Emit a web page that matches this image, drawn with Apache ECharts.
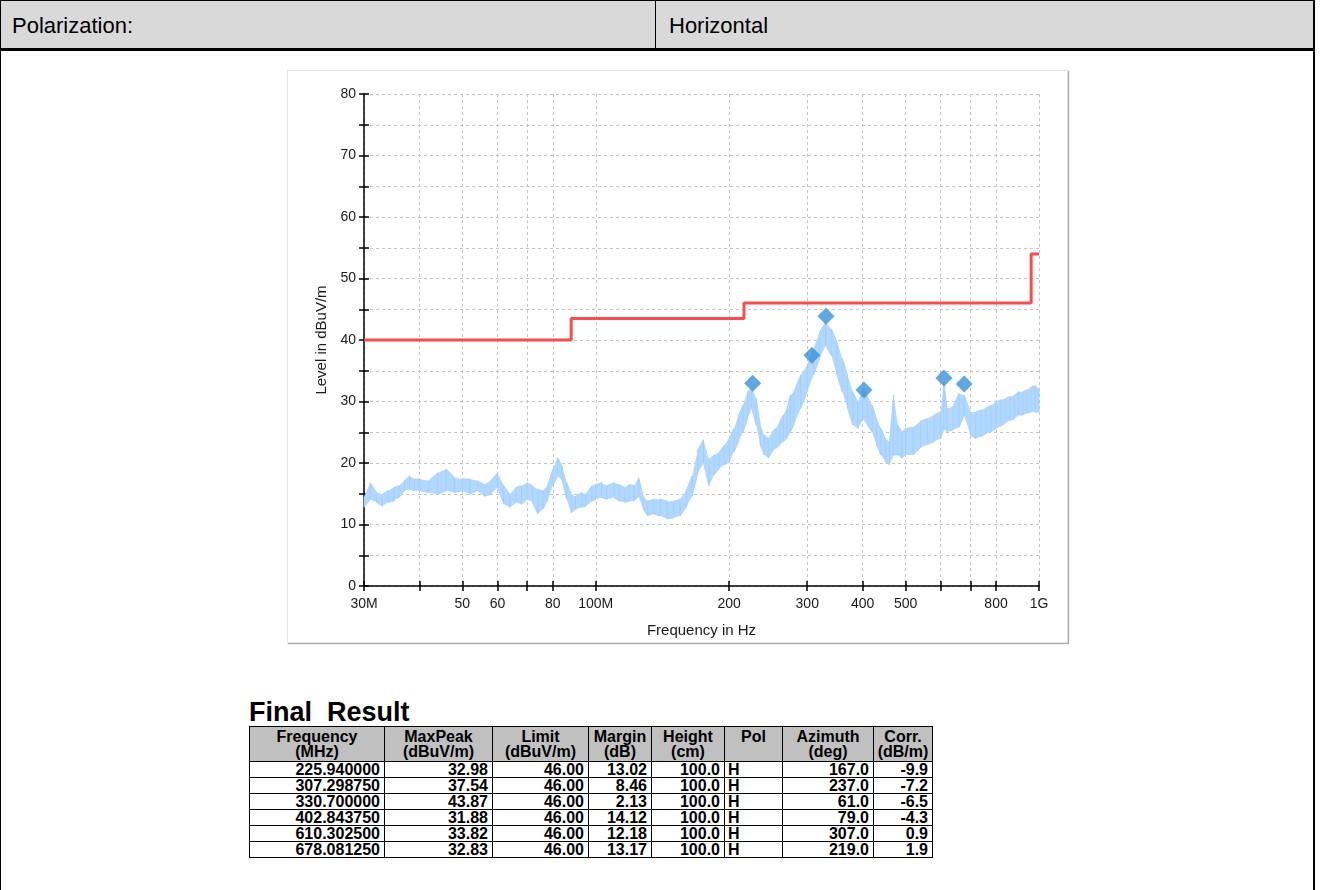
<!DOCTYPE html>
<html>
<head>
<meta charset="utf-8">
<script src="https://cdn.jsdelivr.net/npm/echarts@6/dist/echarts.min.js"></script>
<style>
  body { margin: 0; background: #fff; font-family: "Liberation Sans", Arial, sans-serif; }
  #page { position: relative; width: 1321px; height: 890px; overflow: hidden; }
  .ln { position: absolute; background: #000; }
  .hd-txt { position: absolute; top: 13px; font-size: 22px; color: #000; }
  #box {
    position: absolute; left: 287px; top: 70px; width: 779px; height: 571px;
    border: 1px solid #e4e4e4; box-shadow: 1px 1px 1px #a8a8a8;
  }
  #chart { position: absolute; left: 287px; top: 70px; width: 781px; height: 573px; }
  #res-title { position: absolute; left: 249px; top: 697px; font-size: 27px; font-weight: bold; white-space: pre; }
  #res {
    position: absolute; left: 249px; top: 726px; border-collapse: collapse;
    font-size: 16px; font-weight: bold; line-height: 15px;
  }
  #res th, #res td { border: 1px solid #000; padding: 0 4px 0 2px; }
  #res th { background: #c0c0c0; text-align: center; height: 34px; padding: 0 1px; }
  #res td { text-align: right; height: 15px; }
  #res td.pol { text-align: left; padding-left: 3px; }
</style>
</head>
<body>
<div id="page">
  <div class="ln" style="left:0;top:0;width:1314px;height:49px;background:#d9d9d9"></div>
  <div class="ln" style="left:0;top:0;width:1315px;height:1px"></div>
  <div class="ln" style="left:0;top:0;width:1px;height:890px"></div>
  <div class="ln" style="left:655px;top:0;width:1px;height:49px"></div>
  <div class="ln" style="left:0;top:48px;width:1315px;height:3px"></div>
  <div class="ln" style="left:1313px;top:0;width:2px;height:890px"></div>
  <div class="hd-txt" style="left:12px">Polarization:</div>
  <div class="hd-txt" style="left:669px">Horizontal</div>

  <div id="box"></div>
  <div id="chart"></div>

  <div id="res-title">Final  Result</div>
  <table id="res"></table>
</div>
<script>
// result table (strings keep the report's formatting)
const resFreq = ['225.940000', '307.298750', '330.700000', '402.843750', '610.302500', '678.081250'];
const resMaxPeak = ['32.98', '37.54', '43.87', '31.88', '33.82', '32.83'];
const resLimit = ['46.00', '46.00', '46.00', '46.00', '46.00', '46.00'];
const resMargin = ['13.02', '8.46', '2.13', '14.12', '12.18', '13.17'];
const resHeight = ['100.0', '100.0', '100.0', '100.0', '100.0', '100.0'];
const resPol = ['H', 'H', 'H', 'H', 'H', 'H'];
const resAzimuth = ['167.0', '237.0', '61.0', '79.0', '307.0', '219.0'];
const resCorr = ['-9.9', '-7.2', '-6.5', '-4.3', '0.9', '1.9'];

// limit line (MHz, dBuV/m)
const limitFreq = [30, 88, 88, 216, 216, 960, 960, 1000];
const limitLevel = [40, 40, 43.5, 43.5, 46, 46, 54, 54];

// scan trace: upper / lower edge of the noise band
const traceFreq = [30, 31, 32, 33, 34, 35, 36, 37, 38, 39, 40, 42, 44, 46, 48, 50, 52, 54, 56, 58,
  60, 62, 64, 66, 68, 70, 72, 74, 76, 78, 80, 82, 84, 86, 88, 90, 93, 95, 98, 100,
  103, 106, 110, 113, 116, 119, 122, 125, 128, 131, 135, 140, 145, 150, 155, 160, 165, 170, 175, 180,
  185, 190, 195, 200, 205, 210, 215, 220, 225, 230, 235, 240, 245, 250, 255, 260, 265, 270, 275, 280,
  290, 300, 310, 320, 330, 340, 350, 360, 370, 380, 390, 400, 410, 420, 430, 440, 450, 460, 470, 480,
  490, 500, 520, 540, 560, 580, 600, 610, 620, 640, 660, 678, 700, 720, 740, 760, 780, 800, 820, 840,
  860, 880, 900, 920, 940, 960, 980, 1000];
const traceHi = [14.5, 16.8, 15.2, 14.9, 15.5, 16.0, 16.3, 17.1, 17.9, 17.4, 17.4, 17.1, 18.4, 19.0, 17.6, 17.4, 17.4, 17.1, 16.5, 17.1,
  18.4, 16.3, 14.9, 16.0, 16.3, 16.8, 16.3, 15.7, 15.5, 16.5, 19.0, 20.9, 19.5, 16.8, 14.9, 14.6, 15.2, 14.9, 16.3, 16.5,
  16.8, 16.3, 16.8, 16.5, 16.0, 16.5, 16.3, 17.6, 14.6, 13.8, 14.1, 14.1, 13.8, 13.8, 14.1, 15.5, 17.9, 22.2, 23.8, 20.6,
  21.3, 21.8, 22.9, 24.0, 25.6, 27.8, 29.4, 31.6, 32.1, 30.5, 26.2, 24.5, 24.0, 25.1, 25.6, 26.7, 27.8, 28.9, 31.0, 31.6,
  34.3, 35.9, 38.6, 41.3, 42.9, 41.8, 39.7, 37.0, 34.3, 31.6, 29.9, 32.1, 31.0, 29.4, 27.2, 25.6, 24.0, 23.5, 31.0, 26.2,
  25.1, 25.6, 25.8, 26.8, 27.2, 27.8, 28.3, 33.2, 28.9, 29.2, 31.3, 31.0, 28.3, 28.3, 28.6, 29.0, 29.4, 29.9, 30.3, 30.5,
  30.8, 31.0, 31.6, 31.6, 31.9, 32.3, 32.6, 32.1];
const traceLo = [12.8, 14.1, 13.6, 13.0, 13.6, 13.8, 14.4, 15.5, 15.7, 15.5, 15.5, 15.2, 14.9, 15.5, 15.2, 15.5, 14.9, 15.5, 14.6, 14.9,
  16.0, 13.3, 12.8, 13.6, 13.3, 14.1, 13.6, 11.7, 12.5, 14.1, 16.3, 17.9, 17.1, 14.1, 11.9, 12.5, 12.8, 13.0, 13.8, 14.1,
  14.4, 14.1, 14.4, 13.8, 13.6, 13.8, 13.8, 14.6, 12.5, 11.4, 11.7, 11.4, 10.9, 11.1, 11.4, 12.8, 14.6, 18.4, 20.0, 16.3,
  18.1, 19.1, 19.7, 20.2, 21.8, 23.5, 25.1, 27.2, 28.9, 26.2, 22.9, 21.3, 20.8, 21.8, 22.4, 22.9, 23.5, 24.0, 25.1, 26.2,
  28.9, 31.6, 34.3, 37.0, 39.1, 37.5, 34.3, 31.6, 28.9, 26.2, 25.6, 27.2, 26.2, 25.1, 22.9, 21.3, 20.2, 19.7, 21.3, 21.3,
  20.8, 21.3, 21.3, 22.5, 23.0, 23.5, 24.0, 25.5, 25.1, 25.4, 25.8, 27.8, 24.5, 24.0, 24.3, 24.8, 25.1, 25.6, 26.0, 26.5,
  26.9, 27.2, 27.8, 27.8, 28.1, 28.3, 28.3, 28.3];

// axis ticks / labels in MHz
const freqTicks = [30, 40, 50, 60, 70, 80, 100, 200, 300, 400, 500, 600, 700, 800, 1000];
const freqLabels = [30, 50, 60, 80, 100, 200, 300, 400, 500, 800, 1000];
const levelLabels = [0, 10, 20, 30, 40, 50, 60, 70, 80];

const lg = Math.log10;

// build the table
const tbl = document.getElementById('res');
tbl.innerHTML =
  '<colgroup><col style="width:135px"><col style="width:108px"><col style="width:96px"><col style="width:63px">' +
  '<col style="width:73px"><col style="width:58px"><col style="width:91px"><col style="width:59px"></colgroup>' +
  '<tr><th>Frequency<br>(MHz)</th><th>MaxPeak<br>(dBuV/m)</th><th>Limit<br>(dBuV/m)</th><th>Margin<br>(dB)</th>' +
  '<th>Height<br>(cm)</th><th>Pol<br>&nbsp;</th><th>Azimuth<br>(deg)</th><th>Corr.<br>(dB/m)</th></tr>' +
  resFreq.map((f, i) =>
    '<tr><td>' + f + '</td><td>' + resMaxPeak[i] + '</td><td>' + resLimit[i] + '</td><td>' + resMargin[i] +
    '</td><td>' + resHeight[i] + '</td><td class="pol">' + resPol[i] + '</td><td>' + resAzimuth[i] +
    '</td><td>' + resCorr[i] + '</td></tr>').join('');

// noise band: comb through upper and lower edges
const combData = [];
traceFreq.forEach((f, i) => {
  if (i % 2 === 0) {
    combData.push([lg(f), traceHi[i]], [lg(f), traceLo[i]]);
  } else {
    combData.push([lg(f), traceLo[i]], [lg(f), traceHi[i]]);
  }
});

function freqText(v) {
  const f = Math.round(Math.pow(10, v));
  if (f === 30) return '30M';
  if (f === 100) return '100M';
  if (f === 1000) return '1G';
  return String(f);
}

// filled envelope between upper and lower edges
function renderBand(params, api) {
  if (params.dataIndex !== 0) return null;
  const pts = [];
  traceFreq.forEach((f, i) => pts.push(api.coord([lg(f), traceHi[i]])));
  for (let i = traceFreq.length - 1; i >= 0; i--) pts.push(api.coord([lg(traceFreq[i]), traceLo[i]]));
  return { type: 'polygon', shape: { points: pts }, style: { fill: '#b3d8ff' } };
}

const txt = { fontFamily: 'Liberation Sans, Arial, sans-serif', fontSize: 14, color: '#1a1a1a' };
const nameTxt = { fontFamily: 'Liberation Sans, Arial, sans-serif', fontSize: 15, color: '#1a1a1a' };
const axisDark = { lineStyle: { color: '#000', width: 1.5 } };
const grid = { show: true, lineStyle: { color: '#c4c4c4', type: [3, 3], width: 1 } };

const myChart = echarts.init(document.getElementById('chart'), null, { renderer: 'canvas' });
myChart.setOption({
  animation: false,
  grid: { left: 77, top: 24, width: 675, height: 493, containLabel: false },
  xAxis: [
    {
      type: 'value',
      min: lg(30),
      max: lg(1000),
      position: 'bottom',
      name: 'Frequency in Hz',
      nameLocation: 'middle',
      nameGap: 37,
      nameTextStyle: nameTxt,
      axisLine: Object.assign({ onZero: false }, axisDark),
      axisTick: { show: true, inside: false, length: 5, customValues: freqTicks.map(lg), lineStyle: { color: '#000', width: 1.5 } },
      axisLabel: Object.assign({ customValues: freqLabels.map(lg), margin: 11, formatter: freqText }, txt),
      splitLine: grid,
    },
    {
      type: 'value',
      min: lg(30),
      max: lg(1000),
      position: 'bottom',
      axisLine: { show: false, onZero: false },
      axisTick: { show: true, inside: true, length: 5, customValues: freqTicks.map(lg), lineStyle: { color: '#000', width: 1.5 } },
      axisLabel: { show: false },
      splitLine: { show: false },
    },
  ],
  yAxis: [
    {
      type: 'value',
      min: 0,
      max: 80,
      interval: 5,
      position: 'left',
      name: 'Level in dBuV/m',
      nameLocation: 'middle',
      nameGap: 33,
      nameTextStyle: nameTxt,
      axisLine: Object.assign({ show: true, onZero: false }, axisDark),
      axisTick: { show: true, inside: false, length: 5, lineStyle: { color: '#000', width: 1.5 } },
      axisLabel: Object.assign({ customValues: levelLabels, margin: 8 }, txt),
      splitLine: grid,
    },
    {
      type: 'value',
      min: 0,
      max: 80,
      interval: 5,
      position: 'left',
      axisLine: { show: false, onZero: false },
      axisTick: { show: true, inside: true, length: 5, lineStyle: { color: '#000', width: 1.5 } },
      axisLabel: { show: false },
      splitLine: { show: false },
    },
  ],
  series: [
    {
      name: 'Band',
      type: 'custom',
      renderItem: renderBand,
      data: traceFreq.map((f, i) => [lg(f), traceHi[i], traceLo[i]]),
      encode: { x: 0, y: [1, 2] },
      silent: true,
      z: 1,
    },
    {
      name: 'Trace',
      type: 'line',
      data: combData,
      showSymbol: false,
      lineStyle: { color: '#9ccdff', width: 0.8 },
      z: 2,
    },
    {
      name: 'Limit',
      type: 'line',
      data: limitFreq.map((f, i) => [lg(f), limitLevel[i]]),
      showSymbol: false,
      lineStyle: { color: '#ff4a4a', width: 3 },
      z: 3,
    },
    {
      name: 'Final',
      type: 'scatter',
      data: resFreq.map((f, i) => [lg(parseFloat(f)), parseFloat(resMaxPeak[i])]),
      symbol: 'diamond',
      symbolSize: 17,
      itemStyle: { color: '#3a91da' },
      z: 4,
    },
  ],
});
</script>
</body>
</html>
